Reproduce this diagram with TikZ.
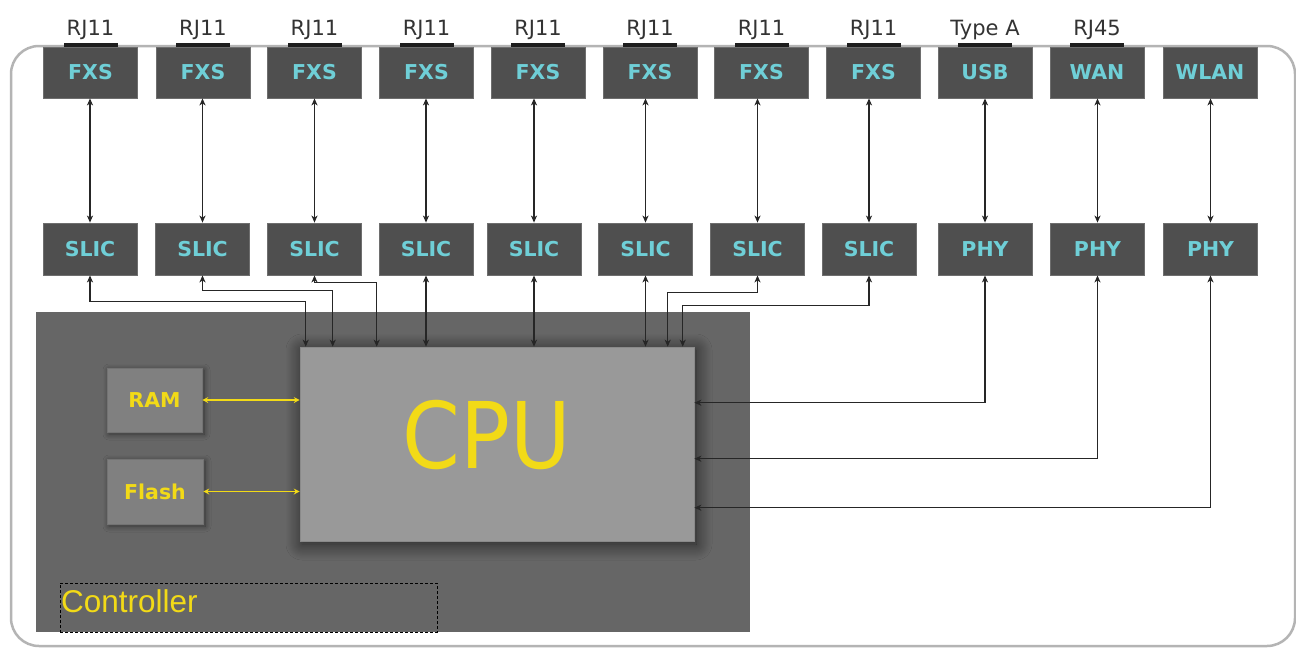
\documentclass[tikz,border=0pt]{standalone}
\usepackage{fontspec}
\setmainfont{DejaVu Sans}
\newfontfamily\ctrlfont{Liberation Sans}
\newfontfamily\cpufont{DejaVu Sans}[FakeStretch=0.9]
\usetikzlibrary{arrows.meta,shadows.blur}
\definecolor{boxfill}{HTML}{4F4F4F}
\definecolor{boxline}{HTML}{6E6E6E}
\definecolor{cyantext}{HTML}{6FCFD7}
\definecolor{yel}{HTML}{F2DA17}
\definecolor{ctrlfill}{HTML}{666666}
\definecolor{cpufill}{HTML}{999999}
\definecolor{memfill}{HTML}{808080}
\definecolor{bordc}{HTML}{B4B4B4}
\definecolor{linec}{HTML}{262626}
\definecolor{labelc}{HTML}{333333}
\definecolor{plugc}{HTML}{1E1E1E}
\tikzset{
  hwbox/.style={draw=boxline, line width=0.8pt, fill=boxfill, minimum width=94pt,
    inner sep=0pt, text=cyantext, font=\bfseries\fontsize{20.5}{24}\selectfont},
  topbox/.style={hwbox, minimum height=51pt},
  midbox/.style={hwbox, minimum height=52pt},
  membox/.style={draw=memfill!90!black, line width=0.6pt, fill=memfill, inner sep=0pt,
    text=yel, font=\bfseries\fontsize{20.5}{24}\selectfont,
    blur shadow={shadow xshift=2pt, shadow yshift=-2pt, shadow blur radius=6pt, shadow opacity=50, shadow blur steps=10}},
  cpubox/.style={draw=cpufill!90!black, line width=0.6pt, fill=cpufill, inner sep=0pt,
    minimum width=394pt, minimum height=194pt,
    blur shadow={shadow xshift=2pt, shadow yshift=-3pt, shadow blur radius=16pt, shadow opacity=70, shadow blur steps=16}},
  cputext/.style={inner sep=0pt, text=yel, font=\cpufont\fontsize{92}{100}\selectfont},
  conn/.style={draw=linec, line width=1.2pt,
    arrows={Stealth[length=7pt,width=6pt,inset=2pt]-Stealth[length=7pt,width=6pt,inset=2pt]}},
  yconn/.style={draw=yel, line width=1.2pt,
    arrows={Stealth[length=6pt,width=6pt,inset=2pt]-Stealth[length=6pt,width=6pt,inset=2pt]}},
  plug/.style={fill=plugc, minimum width=54pt, minimum height=4.5pt, inner sep=0pt},
  lbl/.style={font=\fontsize{21}{25}\selectfont, text=labelc, anchor=base, inner sep=0pt},
}
\begin{document}
\begin{tikzpicture}[x=1pt,y=-1pt]
\useasboundingbox (0,0) rectangle (1296,648);
\fill[white] (0,0) rectangle (1296,648);
% outer enclosure
\draw[draw=bordc, line width=2.5pt, rounded corners=28pt] (11,46) rectangle (1295,646);
% controller region
\fill[ctrlfill] (36,312) rectangle (750,632);
\node[draw=black, line width=0.8pt, dash pattern=on 3pt off 2pt, minimum width=377pt,
  minimum height=49pt, inner sep=0pt] (ctrlbox) at (248.5,607.5) {};
\node[anchor=base west, inner sep=0pt, text=yel, font=\ctrlfont\fontsize{31.5}{36}\selectfont]
  (ctrllbl) at (61,612) {Controller};
% CPU and memories
\node[cpubox] (cpu) at (497,444) {};
\node[cputext] (cpulbl) at (486.5,435.5) {CPU};
\node[membox, minimum width=95pt, minimum height=64pt] (ram) at (154.5,400) {RAM};
\node[membox, minimum width=96pt, minimum height=65pt] (flash) at (155,491.5) {Flash};
% top row
\foreach \i/\x/\t in {1/90.5/FXS,2/203/FXS,3/314.5/FXS,4/426.5/FXS,5/538/FXS,6/650/FXS,
  7/761.5/FXS,8/873.5/FXS,9/985/USB,10/1097/WAN,11/1210/WLAN}
  \node[topbox] (f\i) at (\x,72.5) {\t};
% second row
\foreach \i/\x/\t in {1/90/SLIC,2/202.5/SLIC,3/314.5/SLIC,4/426/SLIC,5/534/SLIC,6/645.5/SLIC,
  7/757.5/SLIC,8/869/SLIC,9/985/PHY,10/1097.5/PHY,11/1210.5/PHY}
  \node[midbox] (s\i) at (\x,249) {\t};
% plugs and their labels
\foreach \i/\t in {1/RJ11,2/RJ11,3/RJ11,4/RJ11,5/RJ11,6/RJ11,7/RJ11,8/RJ11,9/Type A,10/RJ45}{
  \node[plug] (pl\i) at (f\i.north |- 0,45) {};
  \node[lbl] (lb\i) at (f\i.north |- 0,35.5) {\t};
}
% vertical links row 1 - row 2
\foreach \i in {1,...,11}
  \draw[conn] (s\i.north) -- (s\i.north |- f\i.south);
% SLIC to CPU
\draw[conn] (s1.south) |- ([xshift=6pt,yshift=45pt]cpu.north west) -- ([xshift=6pt]cpu.north west);
\draw[conn] (s2.south) |- ([xshift=33pt,yshift=56pt]cpu.north west) -- ([xshift=33pt]cpu.north west);
\draw[conn] (s3.south) |- ([xshift=77pt,yshift=64pt]cpu.north west) -- ([xshift=77pt]cpu.north west);
\draw[conn] (s4.south) -- (s4.south |- cpu.north);
\draw[conn] (s5.south) -- (s5.south |- cpu.north);
\draw[conn] (s6.south) -- (s6.south |- cpu.north);
\draw[conn] (s7.south) |- ([xshift=368pt,yshift=54pt]cpu.north west) -- ([xshift=368pt]cpu.north west);
\draw[conn] (s8.south) |- ([xshift=383pt,yshift=41pt]cpu.north west) -- ([xshift=383pt]cpu.north west);
% PHY to CPU
\draw[conn] (s9.south) |- ([yshift=-56pt]cpu.north east);
\draw[conn] (s10.south) |- ([yshift=-112pt]cpu.north east);
\draw[conn] (s11.south) |- ([yshift=-161pt]cpu.north east);
% memories to CPU
\draw[yconn] (ram.east) -- (ram.east -| cpu.west);
\draw[yconn] (flash.east) -- (flash.east -| cpu.west);
\end{tikzpicture}
\end{document}
